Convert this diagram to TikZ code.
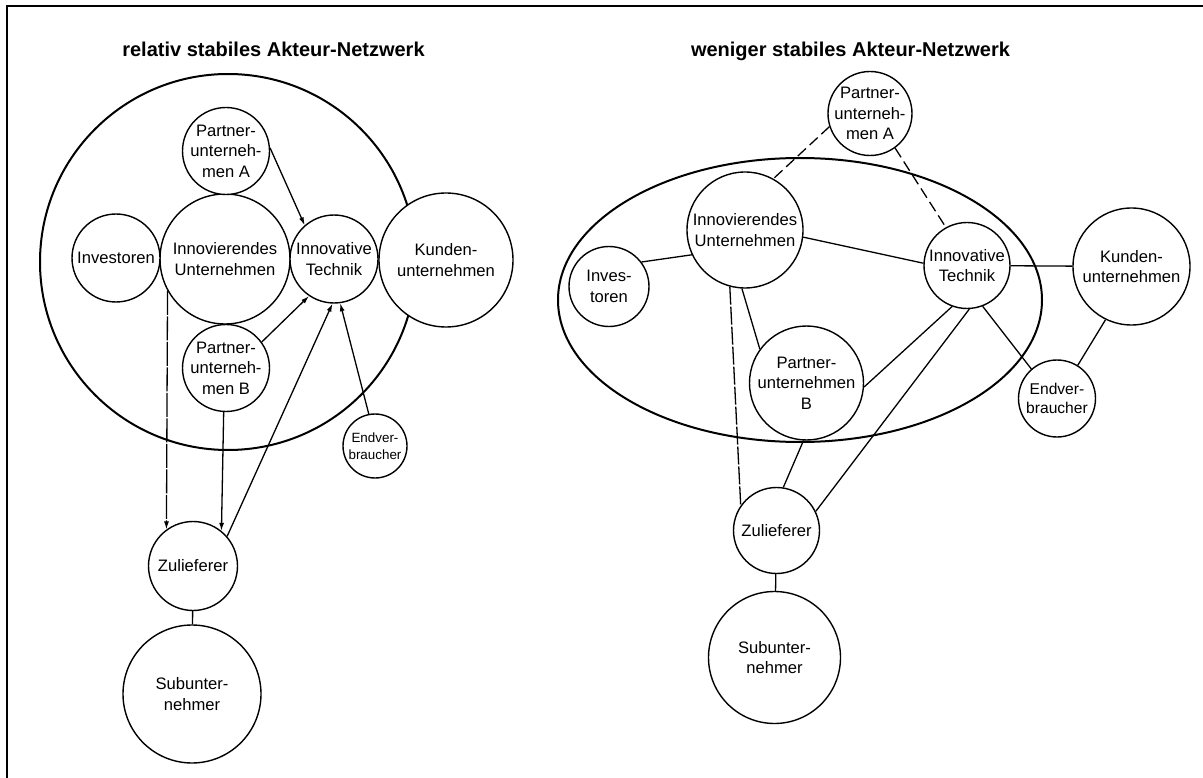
\documentclass[tikz,border=0pt]{standalone}
\usepackage{fontspec}
\setmainfont{Liberation Sans}
\usetikzlibrary{arrows.meta}

\begin{document}
\begin{tikzpicture}[x=1pt,y=-1pt,
  actor/.style={circle,draw,line width=1.4pt,fill=white,inner sep=-20pt,align=center,
    font=\fontsize{16.6}{20.5}\selectfont,minimum size=#1},
  link/.style={line width=1.3pt},
  flow/.style={link,-{Latex[length=8pt,width=5pt]}},
  weak/.style={link,dash pattern=on 11pt off 5pt},
  longdash/.style={dash pattern=on 18pt off 2pt},
  faintdash/.style={dash pattern=on 24pt off 1.5pt},
  hull/.style={line width=2pt},
  heading/.style={font=\fontsize{20}{24}\selectfont\bfseries,anchor=base}
]
\useasboundingbox (0,0) rectangle (1203,778);
\fill[white] (0,0) rectangle (1203,778);
\draw[line width=2.5pt,line join=miter] (7,800) -- (7,6) -- (1220,6);

% headings
\node[heading] (tL) at (273.5,57) {relativ stabiles Akteur-Netzwerk};
\node[heading] (tR) at (850.5,57) {weniger stabiles Akteur-Netzwerk};

% network boundaries
\draw[hull] (228,262) circle[radius=188];
\draw[hull] (800,300) ellipse[x radius=242, y radius=142];

% ---- stable network ----
\node[actor=130pt] (lIn)  at (225,259)   {Innovierendes\\Unternehmen};
\node[actor=87pt]  (lPA)  at (226,151)   {Partner-\\unterneh-\\men A};
\node[actor=88pt]  (lInv) at (116,258)   {Investoren};
\node[actor=88pt]  (lIT)  at (334,259)   {Innovative\\Technik};
\node[actor=134pt] (lKu)  at (446,260)   {Kunden-\\unternehmen};
\node[actor=87pt]  (lPB)  at (226,368)   {Partner-\\unterneh-\\men B};
\node[actor=64pt,font=\fontsize{13.4}{17}\selectfont] (lEV) at (375,446) {Endver-\\braucher};
\node[actor=89pt]  (lZu)  at (193,566)   {Zulieferer};
\node[actor=138pt] (lSu)  at (192,694)   {Subunter-\\nehmer};

\draw[flow] (lPA.4) -- (lIT.131);
\draw[flow] (lPB.36) -- (lIT.236);
\draw[flow] (lZu.41) -- (lIT.268);
\draw[flow] (lEV.101) -- (lIT.278);
\draw[flow,faintdash] (lIn.209) -- (lZu.126);
\draw[flow] (lPB.267) -- (lZu.51);
\draw[link] (lZu) -- (lSu);

% ---- less stable network ----
\node[actor=116pt] (rIn)  at (745,230)    {Innovierendes\\Unternehmen};
\node[actor=84pt]  (rPA)  at (870,113.5)  {Partner-\\unterneh-\\men A};
\node[actor=80pt]  (rInv) at (609,286.5)  {Inves-\\toren};
\node[actor=86pt]  (rIT)  at (967,265.5)  {Innovative\\Technik};
\node[actor=117pt] (rKu)  at (1131.5,266.5) {Kunden-\\unternehmen};
\node[actor=77pt,font=\fontsize{15.6}{19}\selectfont] (rEV) at (1057,398.5) {Endver-\\braucher};
\node[actor=114pt] (rPB)  at (806.5,383)  {Partner-\\unternehmen\\B};
\node[actor=86pt]  (rZu)  at (776.5,530.5) {Zulieferer};
\node[actor=132pt] (rSu)  at (774.5,657.5) {Subunter-\\nehmer};

\draw[link] (rInv.37) -- (rIn.205);
\draw[link] (rIn.353) -- (rIT.177);
\draw[link] (rIT) -- (rKu);
\draw[link] (rKu.244) -- (rEV.58);
\draw[link] (rIT.291) -- (rEV.131);
\draw[link] (rIT.250) -- (rPB.356);
\draw[link] (rIT.273) -- (rZu.26);
\draw[link,longdash] (rIn.255) -- (rZu.145);
\draw[link] (rIn.267) -- (rPB.144);
\draw[link] (rPB.267) -- (rZu.81);
\draw[weak] (rPA.198) -- (rIn.61);
\draw[weak] (rPA.306) -- (rIT.119);
\draw[link] (rZu) -- (rSu);
\end{tikzpicture}
\end{document}
